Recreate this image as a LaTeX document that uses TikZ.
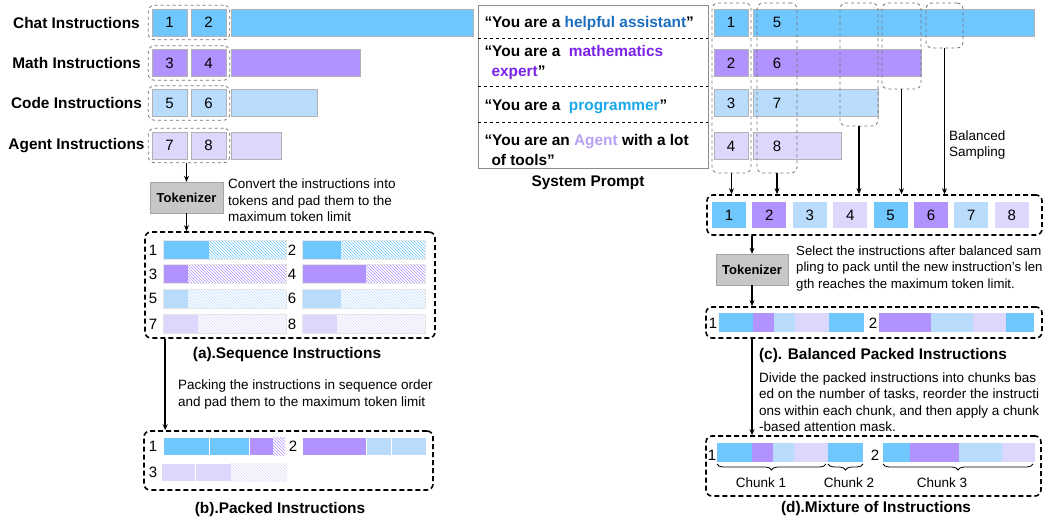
\documentclass[tikz,border=0pt]{standalone}
\usepackage{fontspec}
\setmainfont{Liberation Sans}
\usepackage{xcolor}
\usetikzlibrary{positioning,arrows.meta,patterns,decorations.pathreplacing,fit}
\definecolor{cblue}{HTML}{6FC7FD}
\definecolor{cpurp}{HTML}{B292FD}
\definecolor{clblue}{HTML}{BADCFC}
\definecolor{clav}{HTML}{DCD8FD}
\definecolor{thelp}{HTML}{1E6EC0}
\definecolor{tmath}{HTML}{7A22E8}
\definecolor{tprog}{HTML}{1AA8E8}
\definecolor{tagent}{HTML}{B8A0F6}

\begin{document}
\begin{tikzpicture}[x=1pt,y=-1pt,
    numbox/.style={rectangle,draw=black!30,minimum width=35pt,minimum height=27pt,inner sep=0pt,font=\fontsize{15}{15}\selectfont},
    grp/.style={draw=black!55,dashed,rounded corners=6pt,line width=0.8pt,inner sep=0pt},
    bigbox/.style={draw,line width=1.6pt,dash pattern=on 5pt off 3pt,rounded corners=6pt,inner sep=0pt},
    tok/.style={rectangle,draw=black!35,fill=black!22,minimum width=73pt,minimum height=31pt,font=\bfseries\fontsize{13}{15}\selectfont},
    lbl/.style={font=\bfseries\fontsize{15.4}{20}\selectfont},
    desc/.style={align=left,font=\fontsize{13.5}{16.5}\selectfont,inner sep=0pt},
    num/.style={font=\fontsize{15}{15}\selectfont,inner sep=0pt},
    bar/.style={draw=black!30,line width=0.6pt},
    chunk/.style={decorate,decoration={brace,mirror,amplitude=6pt},line width=0.8pt},
    arr/.style={-{Stealth[length=6pt,width=5pt]},line width=1.5pt}]
    \useasboundingbox (0,0) rectangle (1048,520);

    % instruction groups
    \foreach \name/\col/\a/\b/\yy/\len in {Chat/cblue/1/2/22.5/473, Math/cpurp/3/4/63/360, Code/clblue/5/6/103/317, Agent/clav/7/8/145.5/281} {
        \node[numbox,fill=\col] (n\a) at (169.5,\yy) {\a};
        \node[numbox,fill=\col] (n\b) at (208.5,\yy) {\b};
        \node[grp,fit={(n\a) (n\b)},inner sep=3.5pt] (g\a) {};
        \node[lbl] (t\a) at (76.5,\yy) {\name\ Instructions};
        \draw[bar,fill=\col] (231,\yy-13.5) rectangle (\len,\yy+13.5);
    }

    \node[tok] (tokA) at (186.5,197.5) {Tokenizer};
    \draw[arr] (g7.south -| tokA) -- (tokA);
    \node[desc,anchor=west] (dA) at (228,200.5) {Convert the instructions into\\tokens and pad them to the\\maximum token limit};

    % (a)
    \node[bigbox,minimum width=290pt,minimum height=106pt] (seqbox) at (290,285) {};
    \draw[arr] (tokA) -- (tokA |- seqbox.north);
    \foreach \i/\col/\xa/\xs/\yy in {1/cblue/163/209/250, 2/cblue/302/341/250, 3/cpurp/163/188/274, 4/cpurp/302/366/274, 5/clblue/163/188/298.5, 6/clblue/302/341/298.5, 7/clav/163/198/324, 8/clav/302/337/324} {
        \fill[\col] (\xa,\yy-9.5) rectangle (\xs,\yy+9.5);
        \fill[pattern=north west lines,pattern color=\col] (\xs,\yy-9.5) rectangle (\xa+123,\yy+9.5);
        \draw[black!10] (\xa,\yy-9.5) rectangle (\xa+123,\yy+9.5);
        \node[num] (a\i) at (\xa-10,\yy) {\i};
    }
    \node[lbl] (capA) at (287,355) {(a).Sequence Instructions};

    % (b)
    \node[desc,anchor=west] (dB) at (178,394.5) {Packing the instructions in sequence order\\and pad them to the maximum token limit};
    \node[bigbox,minimum width=289pt,minimum height=59pt] (packbox) at (288.5,460.5) {};
    \draw[arr] ([xshift=21pt]seqbox.south west) -- ([xshift=22pt]packbox.north west);
    \foreach \col/\xa/\xb in {cblue/163/209, cblue/209/249, cpurp/249/273, cpurp/302/366, clblue/366/391, clblue/391/426}
        \draw[draw=white,line width=0.8pt,fill=\col] (\xa,437) rectangle (\xb,455);
    \fill[pattern=north west lines,pattern color=cpurp] (273,437) rectangle (285,455);
    \foreach \col/\xa/\xb in {clav/161/195, clav/195/231}
        \draw[draw=white,line width=0.8pt,fill=\col] (\xa,463) rectangle (\xb,481);
    \fill[pattern=north west lines,pattern color=clav] (231,463) rectangle (287,481);
    \node[num] (b1) at (153,446) {1};
    \node[num] (b2) at (293,446) {2};
    \node[num] (b3) at (153,472) {3};
    \node[lbl] (capB) at (280,510) {(b).Packed Instructions};

    % system prompt
    \node[draw=black!45,line width=0.8pt,minimum width=230pt,minimum height=163pt] (sysbox) at (593,86.5) {};
    \foreach \yy in {38,86,122}
        \draw[dashed,line width=0.9pt] (478,\yy) -- (708,\yy);
    \node[lbl,anchor=west] (p1) at (481,24) {``You are a \textcolor{thelp}{helpful assistant}''};
    \node[lbl,anchor=west,align=left] (p2) at (481,63) {``You are a \ \textcolor{tmath}{mathematics}\\\hspace{7pt}\textcolor{tmath}{expert}''};
    \node[lbl,anchor=west] (p3) at (481,107) {``You are a \ \textcolor{tprog}{programmer}''};
    \node[lbl,anchor=west,align=left] (p4) at (481,150) {``You are an \textcolor{tagent}{Agent} with a lot\\\hspace{7pt}of tools''};
    \node[lbl] (sysp) at (588,183) {System Prompt};

    % balanced sampling
    \foreach \i/\col/\yy/\len in {1/cblue/22.5/1034, 2/cpurp/63/921, 3/clblue/103/878, 4/clav/146/841} {
        \node[numbox,fill=\col,minimum width=34pt] (r\i) at (731,\yy) {\i};
        \draw[bar,fill=\col] (753,\yy-13.5) rectangle (\len,\yy+13.5);
    }
    \foreach \i/\yy in {5/22.5,6/63,7/103,8/146}
        \node[num] (r\i) at (777,\yy) {\i};
    \foreach \n/\xa/\xb/\yb in {1/712/751/173,2/757/797/173,3/840/878/126,4/882/921/89,5/926/963/48}
        \node[grp,fit={(\xa,3) (\xb,\yb)}] (s\n) {};
    \node[desc,anchor=west] (bal) at (949,145) {Balanced\\Sampling};

    \node[bigbox,minimum width=335pt,minimum height=40pt] (pool) at (874.5,215) {};
    \foreach \i/\col in {1/cblue,2/cpurp,3/clblue,4/clav,5/cblue,6/cpurp,7/clblue,8/clav}
        \node[numbox,fill=\col,draw=none,minimum width=34pt,minimum height=26pt] (q\i) at ({729+40.4*(\i-1)},215) {\i};
    \foreach \n in {1,...,5}
        \draw[arr] (s\n) -- (s\n |- pool.north);

    % (c)
    \node[tok,minimum width=72pt] (tokB) at (752,269.5) {Tokenizer};
    \draw[arr] (pool.south -| tokB) -- (tokB);
    \node[desc,anchor=west,font=\fontsize{13.2}{16.5}\selectfont] (dC) at (796,268.5) {Select the instructions after balanced sam\\pling to pack until the new instruction's len\\gth reaches the maximum token limit.};
    \node[bigbox,minimum width=336pt,minimum height=31pt] (boxc) at (874,322.5) {};
    \draw[arr] (tokB) -- (tokB |- boxc.north);
    \foreach \col/\xa/\xb in {cblue/719/753, cpurp/753/774, clblue/774/795, clav/795/829, cblue/829/864, cpurp/879/931, clblue/931/973, clav/973/1006, cblue/1006/1034}
        \fill[\col] (\xa,313) rectangle (\xb,332);
    \node[num] (c1) at (713,323) {1};
    \node[num] (c2) at (873,323) {2};
    \node[lbl] (capC) at (883,356) {(c). Balanced Packed Instructions};

    % (d)
    \node[desc,anchor=west] (dD) at (759,402) {Divide the packed instructions into chunks bas\\ed on the number of tasks, reorder the instructi\\ons within each chunk, and then apply a chunk\\-based attention mask.};
    \node[bigbox,minimum width=335pt,minimum height=60pt] (boxd) at (873.5,466) {};
    \draw[arr] (boxc.south -| tokB) -- (boxd.north -| tokB);
    \foreach \col/\xa/\xb in {cblue/717/752, cpurp/752/773, clblue/773/794, clav/794/828, cblue/828/863, cblue/883/910, cpurp/910/959, clblue/959/1002, clav/1002/1035}
        \fill[\col] (\xa,443) rectangle (\xb,462);
    \node[num] (d1) at (712,455) {1};
    \node[num] (d2) at (875,455) {2};
    \draw[chunk] (717,464) -- (826,464);
    \draw[chunk] (828,464) -- (863,464);
    \draw[chunk] (883,464) -- (1033,464);
    \node[desc] (k1) at (761,483) {Chunk 1};
    \node[desc] (k2) at (849,483) {Chunk 2};
    \node[desc] (k3) at (942,483) {Chunk 3};
    \node[lbl] (capD) at (876,509) {(d).Mixture of Instructions};
\end{tikzpicture}
\end{document}
